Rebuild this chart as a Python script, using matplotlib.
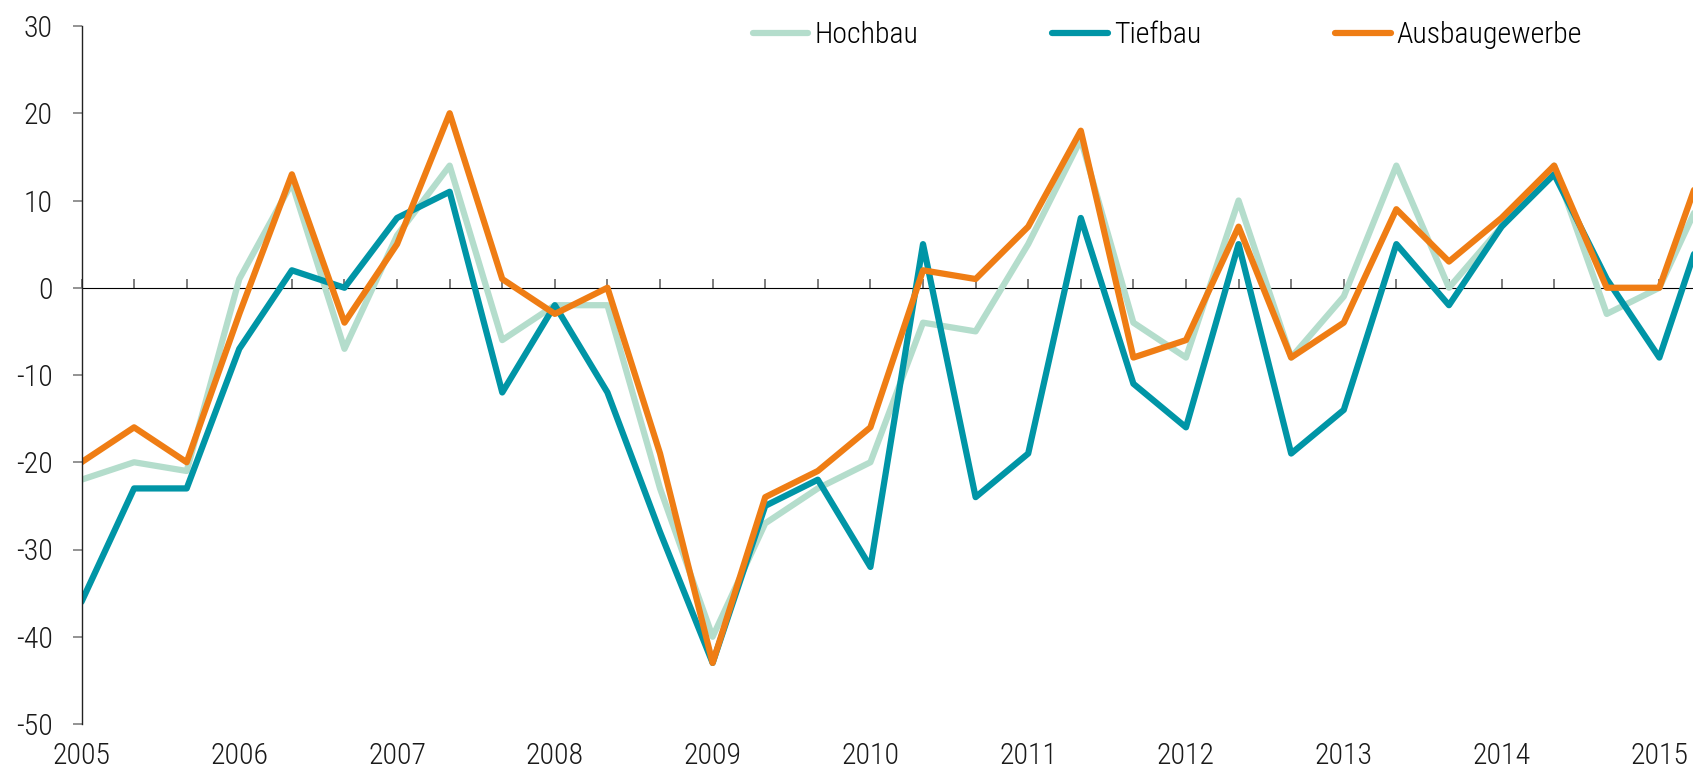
import numpy as np
import matplotlib
matplotlib.use("Agg")
import matplotlib.pyplot as plt

plt.rcParams['font.family'] = ['Roboto Condensed', 'Roboto', 'DejaVu Sans']
plt.rcParams['font.weight'] = 'light'

# survey every four months, starting 2005 (three values per year)
hochbau = [-22, -20, -21, 1, 12, -7, 6, 14, -6, -2, -2, -23, -40, -27, -23, -20,
           -4, -5, 5, 17, -4, -8, 10, -8, -1, 14, 0, 7, 14, -3, 0, 13]
tiefbau = [-36, -23, -23, -7, 2, 0, 8, 11, -12, -2, -12, -28, -43, -25, -22, -32,
           5, -24, -19, 8, -11, -16, 5, -19, -14, 5, -2, 7, 13, 1, -8, 10]
ausbau = [-20, -16, -20, -3, 13, -4, 5, 20, 1, -3, 0, -19, -43, -24, -21, -16,
          2, 1, 7, 18, -8, -6, 7, -8, -4, 9, 3, 8, 14, 0, 0, 17]
series_names = ['Hochbau', 'Tiefbau', 'Ausbaugewerbe']
series_colors = ['#b4ddcc', '#0095a6', '#ef7d14']
years = list(range(2005, 2016))
y_ticks = [30, 20, 10, 0, -10, -20, -30, -40, -50]

x = 2005 + np.arange(len(hochbau)) / 3.0

W, H = 1693, 768
fig = plt.figure(figsize=(W / 100, H / 100), dpi=100)
ax = fig.add_axes([81.5 / W, 1 - 724 / H, 1611.5 / W, (724 - 26) / H])

for vals, name, col in zip([hochbau, tiefbau, ausbau], series_names, series_colors):
    ax.plot(x, vals, color=col, lw=4.5, label=name,
            solid_joinstyle='round', solid_capstyle='round')

ymin, ymax = -50, 30
ax.set_ylim(ymin, ymax)
ax.set_xlim(2005, 2005 + 30.64 / 3)

for s in ['top', 'right', 'bottom']:
    ax.spines[s].set_visible(False)
ax.spines['left'].set_color('#222222')
ax.spines['left'].set_linewidth(1.0)

ax.set_yticks(y_ticks)
ax.set_yticklabels([str(v) for v in y_ticks])
ax.tick_params(axis='y', direction='out', length=6.8, width=1.2, color='#808080',
               pad=14, labelsize=21.5, labelcolor='#1a1a1a')

ax.set_xticks(years)
ax.set_xticklabels([str(y) for y in years])
ax.tick_params(axis='x', length=0, pad=13, labelsize=21.5, labelcolor='#1a1a1a')

# zero line with a tick at every survey date
sec = ax.secondary_xaxis((0 - ymin) / (ymax - ymin))
sec.set_xticks(x[x <= 2015.2])
sec.set_xticklabels([])
sec.tick_params(direction='out', length=6.8, width=1.2, color='#666666')
sec.spines['bottom'].set_color('#111111')
sec.spines['bottom'].set_linewidth(1.2)

ax.legend(loc='center left', bbox_to_anchor=(0.4167, 0.987), ncol=3, frameon=False,
          fontsize=21.5, handlelength=1.85, handletextpad=0.2, columnspacing=4.5,
          borderpad=0, borderaxespad=0)

fig.savefig('out.png', dpi=100)
